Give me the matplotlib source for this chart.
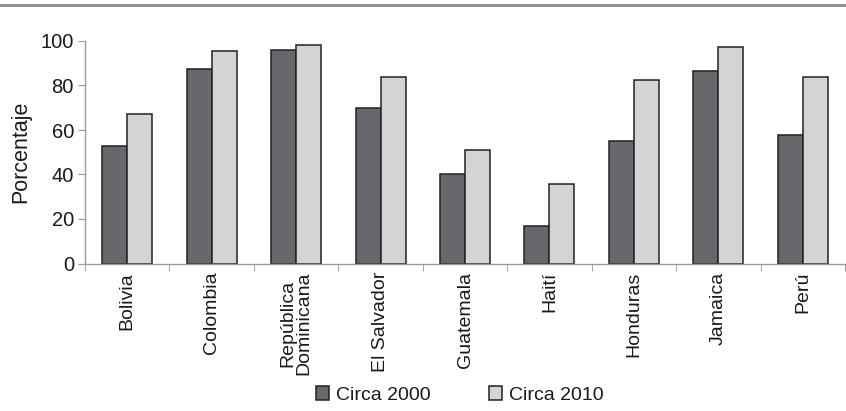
import matplotlib
matplotlib.use("Agg")
import matplotlib.pyplot as plt
import numpy as np
from matplotlib.lines import Line2D

categories = ["Bolivia", "Colombia", "República\nDominicana", "El Salvador",
              "Guatemala", "Haití", "Honduras", "Jamaica", "Perú"]
circa_2000 = [53, 87.4, 96, 69.8, 40.2, 16.9, 54.9, 86.4, 57.8]
circa_2010 = [67.2, 95.5, 98.3, 84, 51.1, 35.9, 82.6, 97.4, 84]
series_names = ["Circa 2000", "Circa 2010"]
yticks = [0, 20, 40, 60, 80, 100]

plt.rcParams['font.family'] = ['Liberation Sans', 'DejaVu Sans']

fig = plt.figure(figsize=(8.46, 4.11), dpi=100)
ax = fig.add_axes([85/846, 147.5/411, 760/846, 222.5/411])

x = np.arange(len(categories))
w = 0.296
c_dark = "#68686c"
c_light = "#d3d4d6"
edge = "#222222"
ax.bar(x - w/2, circa_2000, w, color=c_dark, edgecolor=edge, linewidth=1.1, label=series_names[0])
ax.bar(x + w/2, circa_2010, w, color=c_light, edgecolor=edge, linewidth=1.1, label=series_names[1])

ax.set_xlim(-0.5, len(categories) - 0.5)
ax.set_ylim(0, 100)
ax.set_yticks(yticks)
ax.set_yticklabels([str(t) for t in yticks], fontsize=14.5)
ax.set_xticks(x)
ax.set_xticklabels(categories, rotation=90, fontsize=14, va='top', ha='center', linespacing=0.95,
                   color='#1a1a1a')
ax.tick_params(axis='x', length=0, pad=6)
ax.set_xticks(np.arange(-0.5, len(categories) + 0.5, 1), minor=True)
ax.tick_params(axis='x', which='minor', length=5, color='#999999', direction='out')
ax.tick_params(axis='y', length=5, color='#999999', pad=3, labelcolor='#1a1a1a')
for s in ['top', 'right']:
    ax.spines[s].set_visible(False)
for s in ['left', 'bottom']:
    ax.spines[s].set_color('#999999')
    ax.spines[s].set_linewidth(1.0)
ax.set_ylabel("Porcentaje", fontsize=15.5, color='#1a1a1a', labelpad=7)

leg = fig.legend(loc='center', bbox_to_anchor=(460/846, 1 - 395/411), ncol=2, frameon=False,
                 fontsize=14, handlelength=0.68, handleheight=0.68, handletextpad=0.35,
                 columnspacing=3.0, labelcolor='#1a1a1a')

fig.add_artist(Line2D([0, 1], [1 - 5/411, 1 - 5/411], color='#888888', linewidth=2))

fig.savefig("out.png", dpi=100)
